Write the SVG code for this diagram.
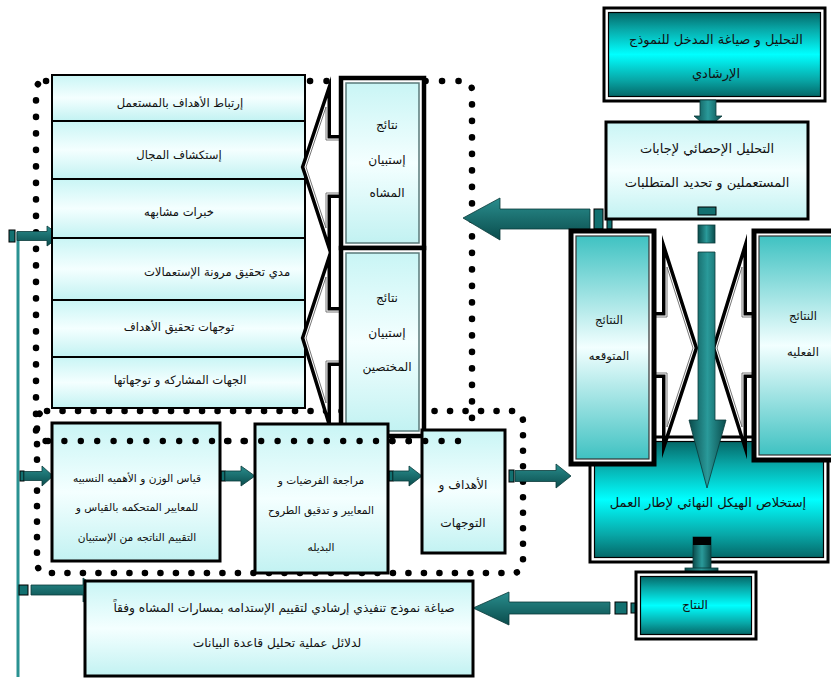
<svg xmlns="http://www.w3.org/2000/svg" width="831" height="679" viewBox="0 0 831 679">
<defs>
<linearGradient id="tealG" x1="0" y1="0" x2="0" y2="1">
<stop offset="0" stop-color="#046868"/><stop offset="0.2" stop-color="#08a8a8"/><stop offset="0.5" stop-color="#00ffff"/><stop offset="0.8" stop-color="#08a8a8"/><stop offset="1" stop-color="#046868"/>
</linearGradient>
<linearGradient id="lightG" x1="0" y1="0" x2="0" y2="1">
<stop offset="0" stop-color="#c9f5f5"/><stop offset="0.5" stop-color="#f4ffff"/><stop offset="1" stop-color="#c2f2f2"/>
</linearGradient>
<linearGradient id="resG" x1="0" y1="0" x2="0" y2="1">
<stop offset="0" stop-color="#3fc2c2"/><stop offset="0.5" stop-color="#f2ffff"/><stop offset="1" stop-color="#3fc2c2"/>
</linearGradient>
<linearGradient id="arrH" x1="0" y1="0" x2="0" y2="1">
<stop offset="0" stop-color="#2a8e8e"/><stop offset="1" stop-color="#0a4c4c"/>
</linearGradient>
<linearGradient id="arrV" x1="0" y1="0" x2="1" y2="0">
<stop offset="0" stop-color="#0a4c4c"/><stop offset="0.5" stop-color="#2a9a9a"/><stop offset="1" stop-color="#0a4c4c"/>
</linearGradient>
<style>
text{font-family:"DejaVu Sans","Noto Sans",sans-serif;font-size:13px;fill:#111;text-anchor:middle}
.s10{font-size:10.6px}
.s11{font-size:11.6px}
.s12{font-size:12.2px}
.dots{fill:none;stroke:#000;stroke-width:6.5;stroke-linecap:round}
.dot{fill:#000}
.row{fill:url(#lightG);stroke:#000;stroke-width:2}
.light{fill:url(#lightG);stroke:#000;stroke-width:3}
.outer{fill:#fff;stroke:#000;stroke-width:3}
.tealin{fill:url(#tealG);stroke:#000;stroke-width:1.2}
.thick{fill:#fff;stroke:#000;stroke-width:4.5}
.lin{fill:url(#lightG);stroke:#5a7a7a;stroke-width:1.5}
.resin{fill:url(#resG);stroke:#333;stroke-width:1.2}
.notchA{fill:#fff;stroke:#000;stroke-width:10;stroke-linejoin:miter;stroke-miterlimit:12}
.notchB{fill:#fff;stroke:#fff;stroke-width:3;stroke-linejoin:miter;stroke-miterlimit:12}
.notchC{fill:none;stroke:#777;stroke-width:1;stroke-linejoin:miter;stroke-miterlimit:12}
.ah{fill:url(#arrH);stroke:#0a3a3a;stroke-width:0.8}
.av{fill:url(#arrV);stroke:#0a3a3a;stroke-width:0.8}
.blk{fill:#127070;stroke:#000;stroke-width:1}
</style>
</defs>
<rect width="831" height="679" fill="#fff"/>

<g id="frame-bottom-under">
<path class="dots" d="M47 411 H512 Q523 411 523 422 V562 Q523 573 512 573 H48 Q37 573 37 562 V422 Q37 411 47 411" stroke-dasharray="0.1 15.4"/>
</g>

<g id="frame-top">
<path class="dots" d="M46 81 H462 Q472 81 472 91 V431 Q472 441 462 441 H46 Q36 441 36 431 V91 Q36 81 46 81" stroke-dasharray="0.1 16.4"/>
</g>

<g id="connectors">
<line x1="18" y1="232" x2="18" y2="677" stroke="#2a9292" stroke-width="3"/>
<rect class="blk" x="9" y="230" width="6" height="12"/>
<path class="ah" d="M17 231.5 H47 V226 L61 236 L47 246 V240.5 H17 Z"/>
<rect class="blk" x="20" y="471" width="4" height="10"/>
<path class="ah" d="M24 471.5 H42 V466 L53 476 L42 486 V480.5 H24 Z"/>
<rect class="blk" x="19" y="585" width="9" height="10"/>
<path class="ah" d="M31 585 H83 V578 L100 590 L83 602 V595 H31 Z"/>
<rect class="blk" x="221" y="471" width="4" height="10"/>
<path class="ah" d="M225 471 H241 V466 L255 476 L241 486 V481 H225 Z"/>
<rect class="blk" x="389" y="471" width="4" height="10"/>
<path class="ah" d="M393 471 H409 V466 L422 476 L409 486 V481 H393 Z"/>
<rect class="blk" x="509" y="470" width="5" height="12"/>
<path class="ah" d="M515 470.5 H556 V464 L571 476 L556 488 V481.5 H515 Z"/>
<path class="ah" d="M610 602 H509 V592 L473 608 L509 625 V614 H610 Z"/>
<rect class="blk" x="615" y="602" width="12" height="12"/>
<rect class="blk" x="631" y="603" width="5" height="10"/>
<path class="ah" d="M590 209 H500 V198 L463 218 L500 240 V229 H590 Z"/>
<rect class="blk" x="594" y="209" width="9" height="20"/>
<rect class="blk" x="607" y="209" width="5" height="20"/>
</g>

<g id="col-box">
<rect class="row" x="52" y="75" width="253" height="46"/>
<rect class="row" x="52" y="121" width="253" height="58"/>
<rect class="row" x="52" y="179" width="253" height="59"/>
<rect class="row" x="52" y="238" width="253" height="62"/>
<rect class="row" x="52" y="300" width="253" height="57"/>
<rect class="row" x="52" y="357" width="253" height="51"/>
<text class="s11" x="180" y="107">إرتباط الأهداف بالمستعمل</text>
<text class="s11" x="179" y="159">إستكشاف المجال</text>
<text class="s11" x="179" y="216">خبرات مشابهه</text>
<text class="s11" x="217" y="276">مدي تحقيق مرونة الإستعمالات</text>
<text class="s11" x="179" y="331">توجهات تحقيق الأهداف</text>
<text class="s11" x="180" y="384">الجهات المشاركه و توجهاتها</text>
</g>

<g id="arrow-notch-1">
<path class="notchA" d="M306 167 L326 107 V140 H342 V193 H326 V228 Z"/>
<path class="notchB" d="M306 167 L326 107 V140 H342 V193 H326 V228 Z"/>
<path class="notchC" d="M306 167 L326 107 V140 H342 V193 H326 V228 Z"/>
</g>
<g id="arrow-notch-2">
<path class="notchA" d="M306 338 L326 277 V312 H342 V361 H326 V403 Z"/>
<path class="notchB" d="M306 338 L326 277 V312 H342 V361 H326 V403 Z"/>
<path class="notchC" d="M306 338 L326 277 V312 H342 V361 H326 V403 Z"/>
</g>

<g id="box-mushah">
<rect class="thick" x="341" y="78" width="83" height="170"/>
<rect class="lin" x="346" y="83" width="73" height="160"/>
<text class="s12" x="387" y="129">نتائج</text>
<text class="s12" x="387" y="164">إستبيان</text>
<text class="s12" x="387" y="197">المشاه</text>
</g>

<g id="box-mukhtassin">
<rect class="thick" x="341" y="248" width="83" height="188"/>
<rect class="lin" x="346" y="253" width="73" height="178"/>
<text class="s12" x="387" y="302">نتائج</text>
<text class="s12" x="387" y="337">إستبيان</text>
<text class="s12" x="387" y="371">المختصين</text>
</g>

<g id="box-qiyas">
<rect class="light" x="52" y="423" width="168" height="138"/>
<text class="s10" x="137" y="482">قياس الوزن و الأهميه النسبيه</text>
<text class="s10" x="137" y="511">للمعايير المتحكمه بالقياس و</text>
<text class="s10" x="137" y="541">التقييم الناتجه من الإستبيان</text>
</g>

<g id="box-murajaa">
<rect class="light" x="255" y="424" width="133" height="149"/>
<text class="s10" x="321" y="484">مراجعة الفرضيات و</text>
<text class="s10" x="321" y="514">المعايير و تدقيق الطروح</text>
<text class="s10" x="321" y="551">البديله</text>
</g>

<g id="box-ahdaf">
<rect class="light" x="422" y="430" width="83" height="123"/>
<text class="s12" x="463" y="489">الأهداف و</text>
<text class="s12" x="463" y="527">التوجهات</text>
</g>

<g id="frame-top-dots-over">
<circle class="dot" cx="48" cy="441" r="3.2"/><circle class="dot" cx="64.4" cy="441" r="3.2"/><circle class="dot" cx="80.8" cy="441" r="3.2"/><circle class="dot" cx="97.2" cy="441" r="3.2"/><circle class="dot" cx="113.6" cy="441" r="3.2"/><circle class="dot" cx="130" cy="441" r="3.2"/><circle class="dot" cx="146.4" cy="441" r="3.2"/><circle class="dot" cx="162.8" cy="441" r="3.2"/><circle class="dot" cx="179.2" cy="441" r="3.2"/><circle class="dot" cx="195.6" cy="441" r="3.2"/><circle class="dot" cx="212" cy="441" r="3.2"/><circle class="dot" cx="228.4" cy="441" r="3.2"/><circle class="dot" cx="244.8" cy="441" r="3.2"/><circle class="dot" cx="261.2" cy="441" r="3.2"/><circle class="dot" cx="277.6" cy="441" r="3.2"/><circle class="dot" cx="294" cy="441" r="3.2"/><circle class="dot" cx="310.4" cy="441" r="3.2"/><circle class="dot" cx="326.8" cy="441" r="3.2"/><circle class="dot" cx="343.2" cy="441" r="3.2"/><circle class="dot" cx="359.6" cy="441" r="3.2"/><circle class="dot" cx="376" cy="441" r="3.2"/><circle class="dot" cx="392.4" cy="441" r="3.2"/><circle class="dot" cx="408.8" cy="441" r="3.2"/><circle class="dot" cx="425.2" cy="441" r="3.2"/><circle class="dot" cx="441.6" cy="441" r="3.2"/><circle class="dot" cx="458" cy="441" r="3.2"/>
</g>

<g id="box-final">
<rect class="light" x="85" y="581" width="388" height="95"/>
<text class="s12" x="284" y="612">صياغة نموذج تنفيذي إرشادي لتقييم الإستدامه بمسارات المشاه وفقاً</text>
<text class="s12" x="277" y="647">لدلائل عملية تحليل قاعدة البيانات</text>
</g>

<g id="box-input">
<rect class="outer" x="604" y="8" width="221" height="93"/>
<rect class="tealin" x="608.5" y="12.5" width="212" height="84"/>
<text x="716" y="44">التحليل و صياغة المدخل للنموذج</text>
<text x="716" y="78">الإرشادي</text>
</g>

<g id="arrow-down-1">
<path class="av" d="M700 100 H716 V116 H722 L708 128 L694 116 H700 Z"/>
</g>

<g id="box-stat">
<rect class="light" x="606" y="122" width="202" height="97"/>
<text x="707" y="153">التحليل الإحصائي لإجابات</text>
<text x="707" y="187">المستعملين و تحديد المتطلبات</text>
<rect class="blk" x="698" y="207" width="18" height="8"/>
</g>

<g id="box-structure">
<rect class="outer" x="590" y="437" width="238" height="125"/>
<rect class="tealin" x="594.5" y="441.5" width="229" height="116"/>
<text x="708" y="507">إستخلاص الهيكل النهائي لإطار العمل</text>
</g>

<g id="arrow-notch-3">
<path class="notchA" d="M693 348 L667 267 V317 H652 V373 H667 V427 Z"/>
<path class="notchB" d="M693 348 L667 267 V317 H652 V373 H667 V427 Z"/>
<path class="notchC" d="M693 348 L667 267 V317 H652 V373 H667 V427 Z"/>
</g>
<g id="arrow-notch-4">
<path class="notchA" d="M717 348 L742 267 V317 H756 V373 H742 V427 Z"/>
<path class="notchB" d="M717 348 L742 267 V317 H756 V373 H742 V427 Z"/>
<path class="notchC" d="M717 348 L742 267 V317 H756 V373 H742 V427 Z"/>
</g>

<g id="box-expected">
<rect x="571" y="231" width="83" height="233" fill="#fff" stroke="#000" stroke-width="5"/>
<rect class="resin" x="576" y="236" width="73" height="223"/>
<text class="s11" x="609" y="324">النتائج</text>
<text class="s11" x="609" y="360">المتوقعه</text>
</g>

<g id="box-actual">
<rect x="754" y="231" width="82" height="229" fill="#fff" stroke="#000" stroke-width="5"/>
<rect class="resin" x="759" y="236" width="80" height="219"/>
<text class="s11" x="803" y="320">النتائج</text>
<text class="s11" x="803" y="356">الفعليه</text>
</g>

<g id="arrow-down-2">
<rect class="av" x="698" y="225" width="17" height="18"/>
<path class="av" d="M698 252 H715 V420 H726 L707 488 L689 420 H698 Z"/>
</g>

<g id="arrow-down-3">
<rect class="av" x="693" y="537" width="18" height="33"/>
<rect x="693" y="537" width="18" height="8" fill="#000"/>
<rect class="av" x="685" y="568" width="33" height="5"/>
</g>

<g id="box-output">
<rect class="outer" x="636" y="572" width="120" height="67"/>
<rect class="tealin" x="640.5" y="576.5" width="111" height="58"/>
<text class="s12" x="695" y="609">النتاج</text>
</g>
</svg>
